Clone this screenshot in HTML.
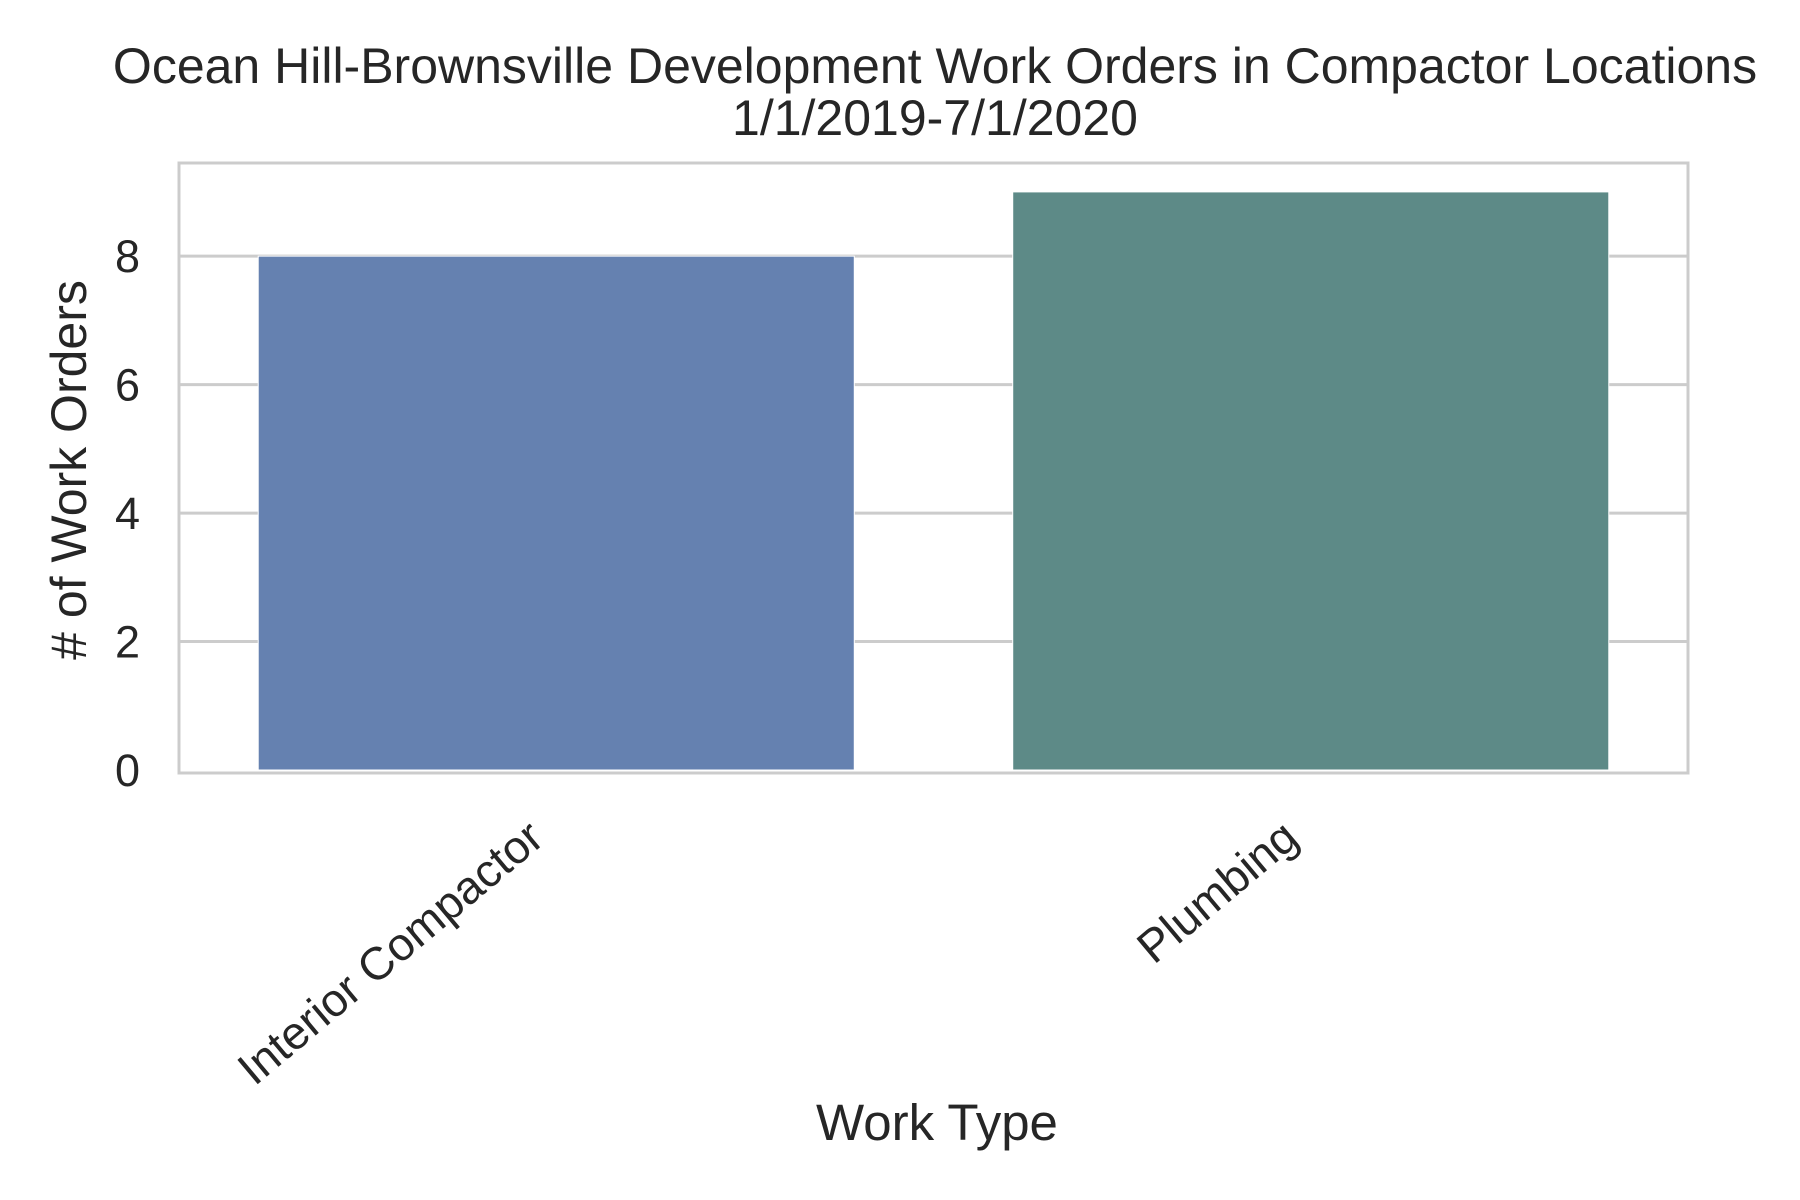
<!DOCTYPE html>
<html><head><meta charset="utf-8"><style>
html,body{margin:0;padding:0;background:#fff}
svg{display:block;font-family:"Liberation Sans",Arial,sans-serif;fill:#262626}
</style></head><body>
<svg id="chart" width="1800" height="1200" viewBox="0 0 1800 1200">
<text x="935" y="83" text-anchor="middle" font-size="50">Ocean Hill-Brownsville Development Work Orders in Compactor Locations</text>
<text x="935" y="135" text-anchor="middle" font-size="50">1/1/2019-7/1/2020</text>
<g id="grid"></g>
<g id="bars"></g>
<rect x="179" y="163" width="1509" height="610" fill="none" stroke="#cccccc" stroke-width="3"/>
<g id="yticks"></g>
<g id="xticks"></g>
<text transform="translate(86,470) rotate(-90)" text-anchor="middle" font-size="50"># of Work Orders</text>
<text x="937" y="1140" text-anchor="middle" font-size="51">Work Type</text>
</svg>
<script>
const categories = ["Interior Compactor", "Plumbing"];
const values = [8, 9];
const yTicks = [0, 2, 4, 6, 8];
const colors = ["#6581b0", "#5d8a87"];
const NS = "http://www.w3.org/2000/svg";
const L = 179, R = 1688, T = 163, B = 773, YMAX = 9.45;
const y = v => B - 3 - (v / YMAX) * (B - 3 - T);
const band = (R - L) / categories.length;
const xc = i => L + band * (i + 0.5);
function mk(tag, attrs) { const e = document.createElementNS(NS, tag); for (const k in attrs) e.setAttribute(k, attrs[k]); return e; }
const grid = document.getElementById('grid'), bars = document.getElementById('bars'),
      yt = document.getElementById('yticks'), xt = document.getElementById('xticks');
yTicks.forEach(t => {
  if (t > 0) {
    const ln = mk('line', {x1: L, x2: R, y1: y(t), y2: y(t), stroke: '#cccccc', 'stroke-width': 3});
    
    
    grid.appendChild(ln);
  }
  const tx = mk('text', {x: 140, y: y(t) + 16, 'text-anchor': 'end', 'font-size': 45});
  tx.textContent = t;
  
  
  yt.appendChild(tx);
});
categories.forEach((c, i) => {
  const w = band * 0.79;
  const r = mk('rect', {x: xc(i) - w / 2, y: y(values[i]), width: w, height: y(0) - y(values[i]), fill: colors[i], stroke: '#fff', 'stroke-width': 1});
  
  
  bars.appendChild(r);
  const tx = mk('text', {'text-anchor': 'end', 'font-size': 46, transform: `translate(${xc(i) - 10},842) rotate(-40)`});
  tx.textContent = c;
  
  
  xt.appendChild(tx);
});
</script>
</body></html>
